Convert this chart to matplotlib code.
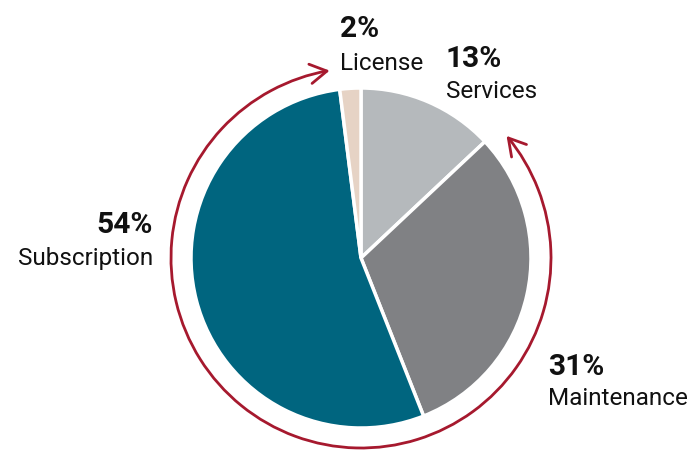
import numpy as np
import matplotlib.pyplot as plt
from matplotlib.patches import FancyArrowPatch
from matplotlib.path import Path
from matplotlib.transforms import Affine2D

plt.rcParams['font.family'] = ['Roboto', 'DejaVu Sans']

categories = ['Services', 'Maintenance', 'Subscription', 'License']
shares = [13, 31, 54, 2]
colors = ['#b5b9bc', '#808184', '#00657f', '#e6d3c5']

fig = plt.figure(figsize=(6.93, 4.51), dpi=100)
ax = fig.add_axes([0, 0, 1, 1])

ax.pie(shares, colors=colors, startangle=90, counterclock=False, radius=170,
       wedgeprops=dict(edgecolor='white', linewidth=2.5))

# pixel-like data coords, pie centre at (0, 0) -- set after pie, it resets limits
ax.set_xlim(-361, 332)
ax.set_ylim(-193, 258)
ax.set_aspect('equal')
ax.axis('off')

# red arc with arrowheads around maintenance + subscription
arc = Path.arc(99.5, 400)
arc = arc.transformed(Affine2D().scale(190))
arrow = FancyArrowPatch(path=arc, arrowstyle='<->,head_length=0.6,head_width=0.35',
                        mutation_scale=20, color='#a6192e', linewidth=2)
ax.add_patch(arrow)

# labels: x, baseline of pct, baseline of name, ha
label_pos = {
    'Services': (85, 191, 160, 'left'),
    'Maintenance': (187, -117, -147, 'left'),
    'Subscription': (-208, 25, -7, 'right'),
    'License': (-21, 221, 188, 'left'),
}
for cat, val in zip(categories, shares):
    x, y1, y2, ha = label_pos[cat]
    ax.text(x, y1, f'{val}%', ha=ha, va='baseline', fontsize=21.5, fontweight='bold', color='#111111')
    ax.text(x, y2, cat, ha=ha, va='baseline', fontsize=17.5, color='#111111')

fig.savefig('out.png', dpi=100)
